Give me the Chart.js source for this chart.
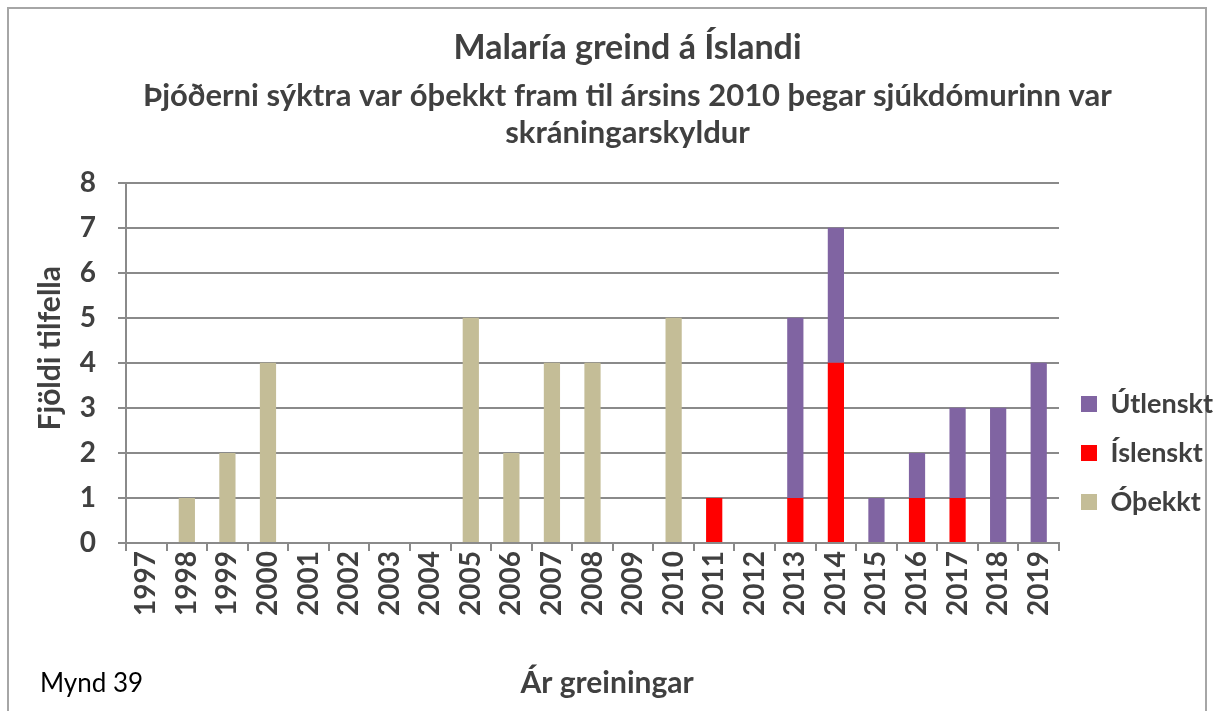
<!DOCTYPE html>
<html>
<head>
<meta charset="utf-8">
<title>Malaría greind á Íslandi</title>
<script src="https://cdn.jsdelivr.net/npm/chart.js@4"></script>
<style>
  body { margin: 0; background: #fff; }
  #wrap { position: relative; width: 1213px; height: 711px; overflow: hidden; }
  #frame { position: absolute; left: 7px; top: 7px; width: 1196px; height: 730px; border: 2px solid #a6a6a6; }
  #chart { position: absolute; left: 0; top: 0; }
  #mynd { position: absolute; left: 40px; top: 667px; font: 26px Lato, sans-serif; line-height: 31px; color: #000; }
</style>
</head>
<body>
<div id="wrap">
  <div id="frame"></div>
  <canvas id="chart" width="1213" height="711"></canvas>
  <div id="mynd">Mynd 39</div>
</div>
<script>
'use strict';

let years = ['1997', '1998', '1999', '2000', '2001', '2002', '2003', '2004', '2005', '2006', '2007', '2008',
    '2009', '2010', '2011', '2012', '2013', '2014', '2015', '2016', '2017', '2018', '2019'];

// cases per year, split by nationality of the patient
let unknown = [0, 1, 2, 4, 0, 0, 0, 0, 5, 2, 4, 4, 0, 5, 0, 0, 0, 0, 0, 0, 0, 0, 0];
let icelandic = [0, 0, 0, 0, 0, 0, 0, 0, 0, 0, 0, 0, 0, 0, 1, 0, 1, 4, 0, 1, 1, 0, 0];
let foreign = [0, 0, 0, 0, 0, 0, 0, 0, 0, 0, 0, 0, 0, 0, 0, 0, 4, 3, 1, 1, 2, 3, 4];

let textColor = '#404040';
let gridColor = '#8a8a8a';
let fontName = 'Lato, "Open Sans", sans-serif';

function bold(size) {
    return { family: fontName, size: size, weight: 'bold' };
}

let ctx = document.getElementById('chart').getContext('2d');
let myChart = new Chart(ctx, {
    type: 'bar',
    data: {
        labels: years,
        datasets: [{
            label: 'Óþekkt',
            data: unknown,
            backgroundColor: '#c4bd97'
        }, {
            label: 'Íslenskt',
            data: icelandic,
            backgroundColor: '#ff0000'
        }, {
            label: 'Útlenskt',
            data: foreign,
            backgroundColor: '#8064a2'
        }]
    },
    options: {
        responsive: false,
        animation: false,
        devicePixelRatio: 1,
        categoryPercentage: 1,
        barPercentage: 0.4,
        layout: {
            padding: { left: 32, right: -10, top: 0, bottom: 10 }
        },
        plugins: {
            tooltip: { enabled: false },
            title: {
                display: true,
                text: 'Malaría greind á Íslandi',
                color: textColor,
                font: bold(34),
                padding: { top: 28, bottom: 9 }
            },
            subtitle: {
                display: true,
                text: ['Þjóðerni sýktra var óþekkt fram til ársins 2010 þegar sjúkdómurinn var', 'skráningarskyldur'],
                color: textColor,
                font: { family: fontName, size: 31, weight: 'bold', lineHeight: 1.19 },
                padding: { top: 0, bottom: 31 }
            },
            legend: {
                position: 'right',
                align: 'start',
                fullSize: false,
                reverse: true,
                // empty title only pushes the entries down
                title: {
                    display: true,
                    text: '',
                    font: { size: 10 },
                    padding: { top: 174, bottom: 0 }
                },
                labels: {
                    color: textColor,
                    font: bold(27),
                    boxWidth: 16,
                    boxHeight: 16,
                    padding: 22
                }
            }
        },
        scales: {
            x: {
                stacked: true,
                grid: {
                    drawOnChartArea: false,
                    color: gridColor,
                    lineWidth: 2,
                    tickLength: 8
                },
                border: { color: gridColor, width: 2 },
                ticks: {
                    color: textColor,
                    font: bold(28),
                    minRotation: 90,
                    maxRotation: 90,
                    padding: 0
                },
                title: {
                    display: true,
                    text: '    Ár greiningar',
                    color: textColor,
                    font: bold(30),
                    padding: 0
                },
                afterFit: function (scale) {
                    scale.height = 711 - 543 - 10;
                }
            },
            y: {
                stacked: true,
                min: 0,
                max: 8,
                ticks: {
                    stepSize: 1,
                    color: textColor,
                    font: bold(28),
                    padding: 22
                },
                grid: {
                    color: gridColor,
                    lineWidth: 2,
                    tickLength: 8
                },
                border: { color: gridColor, width: 2 },
                title: {
                    display: true,
                    text: '    Fjöldi tilfella',
                    color: textColor,
                    font: bold(30),
                    padding: 0
                },
                afterFit: function (scale) {
                    scale.width = 126 - 32;
                }
            }
        }
    }
});
</script>
</body>
</html>
